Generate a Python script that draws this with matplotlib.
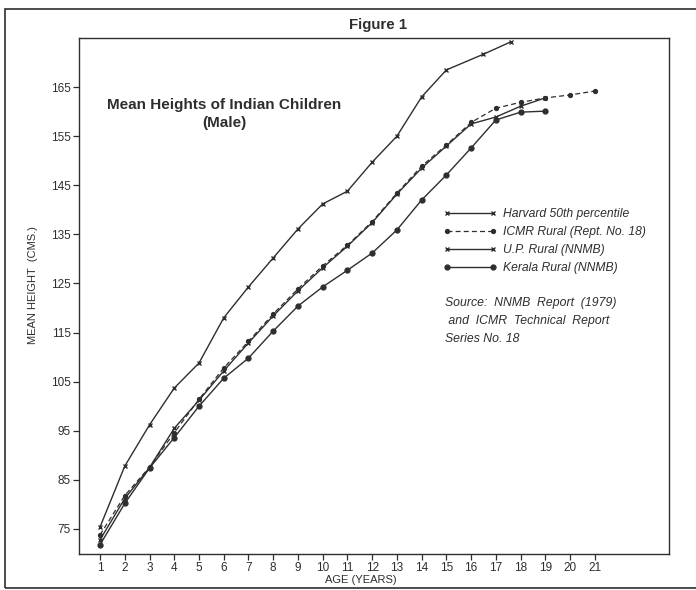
import numpy as np
import matplotlib
matplotlib.use('Agg')
import matplotlib.pyplot as plt
from matplotlib.patches import Rectangle

plt.rcParams['font.family'] = ['Liberation Sans', 'DejaVu Sans']

# ages (years) and mean heights (cms)
harvard_age = [1, 2, 3, 4, 5, 6, 7, 8, 9, 10, 11, 12, 13, 14, 15, 16.5, 17.6]
harvard_ht = [75.4, 87.8, 96.2, 103.7, 108.8, 118.0, 124.3, 130.2, 136.1, 141.2,
              143.8, 149.7, 155.0, 163.0, 168.5, 171.7, 174.2]

icmr_age = list(range(1, 22))
icmr_ht = [73.8, 81.8, 87.6, 94.6, 101.4, 107.8, 113.2, 118.8, 123.9, 128.6, 132.8,
           137.6, 143.4, 148.9, 153.2, 157.8, 160.7, 161.9, 162.8, 163.4, 164.2]

up_age = list(range(1, 20))
up_ht = [72.8, 81.2, 87.5, 95.5, 101.2, 107.2, 112.9, 118.4, 123.5, 128.2, 132.6,
         137.4, 143.2, 148.5, 153.0, 157.5, 158.9, 161.1, 162.8]

kerala_age = list(range(1, 20))
kerala_ht = [71.8, 80.2, 87.4, 93.6, 100.0, 105.7, 109.8, 115.3, 120.4, 124.3, 127.7,
             131.2, 135.9, 142.0, 147.1, 152.6, 158.3, 159.9, 160.1]

yticks = np.arange(75, 166, 10)
xticks = np.arange(1, 22)

col = '#2e2e2e'

fig = plt.figure(figsize=(6.96, 5.90), dpi=100)
ax = fig.add_axes([79/696, 1-554/590, 590/696, 516/590])

ax.plot(harvard_age, harvard_ht, color=col, lw=1.0, marker='x', ms=3.5, mew=1.0,
        label='Harvard 50th percentile')
ax.plot(icmr_age, icmr_ht, color=col, lw=0.9, ls=(0, (4, 2.5)), marker='o', ms=2.8,
        label='ICMR Rural (Rept. No. 18)')
ax.plot(up_age, up_ht, color=col, lw=1.0, marker='x', ms=3, mew=1.0,
        label='U.P. Rural (NNMB)')
ax.plot(kerala_age, kerala_ht, color=col, lw=1.0, marker='o', ms=3.5,
        label='Kerala Rural (NNMB)')

ax.set_xlim(0.15, 24.0)
ax.set_ylim(69.9, 175.0)
ax.set_xticks(xticks)
ax.set_yticks(yticks)
ax.tick_params(labelsize=8.5, length=4, width=0.9, colors=col, pad=2)
for s in ax.spines.values():
    s.set_color(col)
    s.set_linewidth(1.0)

leg = ax.legend(loc='upper left', bbox_to_anchor=(0.617, 0.670), frameon=False,
                borderpad=0, borderaxespad=0, handlelength=4.4, handletextpad=0.6,
                labelspacing=0.5, numpoints=2, prop={'size': 8.7, 'style': 'italic'})
for t in leg.get_texts():
    t.set_color(col)

ax.text(0.620, 0.499, 'Source:  NNMB  Report  (1979)\n and  ICMR  Technical  Report\nSeries No. 18',
        transform=ax.transAxes, ha='left', va='top', fontsize=8.8, style='italic',
        linespacing=1.7, color=col)

ax.text(0.246, 0.852, 'Mean Heights of Indian Children\n(Male)', transform=ax.transAxes,
        ha='center', va='center', fontsize=11, fontweight='bold', color=col,
        multialignment='center', linespacing=1.35)

fig.text(378/696, 1-25/590, 'Figure 1', ha='center', va='center', fontsize=10.8,
         fontweight='bold', color=col)
fig.text(33/696, 1-285/590, 'MEAN HEIGHT  (CMS.)', rotation=90, ha='center', va='center',
         fontsize=8, color=col)
fig.text(361/696, 1-580/590, 'AGE (YEARS)', ha='center', va='center', fontsize=8, color=col)

# outer frame of the figure
fig.patches.append(Rectangle((5/696, 1-588/590), 700/696, 579/590, transform=fig.transFigure,
                             fill=False, ec=col, lw=1.2))

fig.savefig('out.png', dpi=100)
